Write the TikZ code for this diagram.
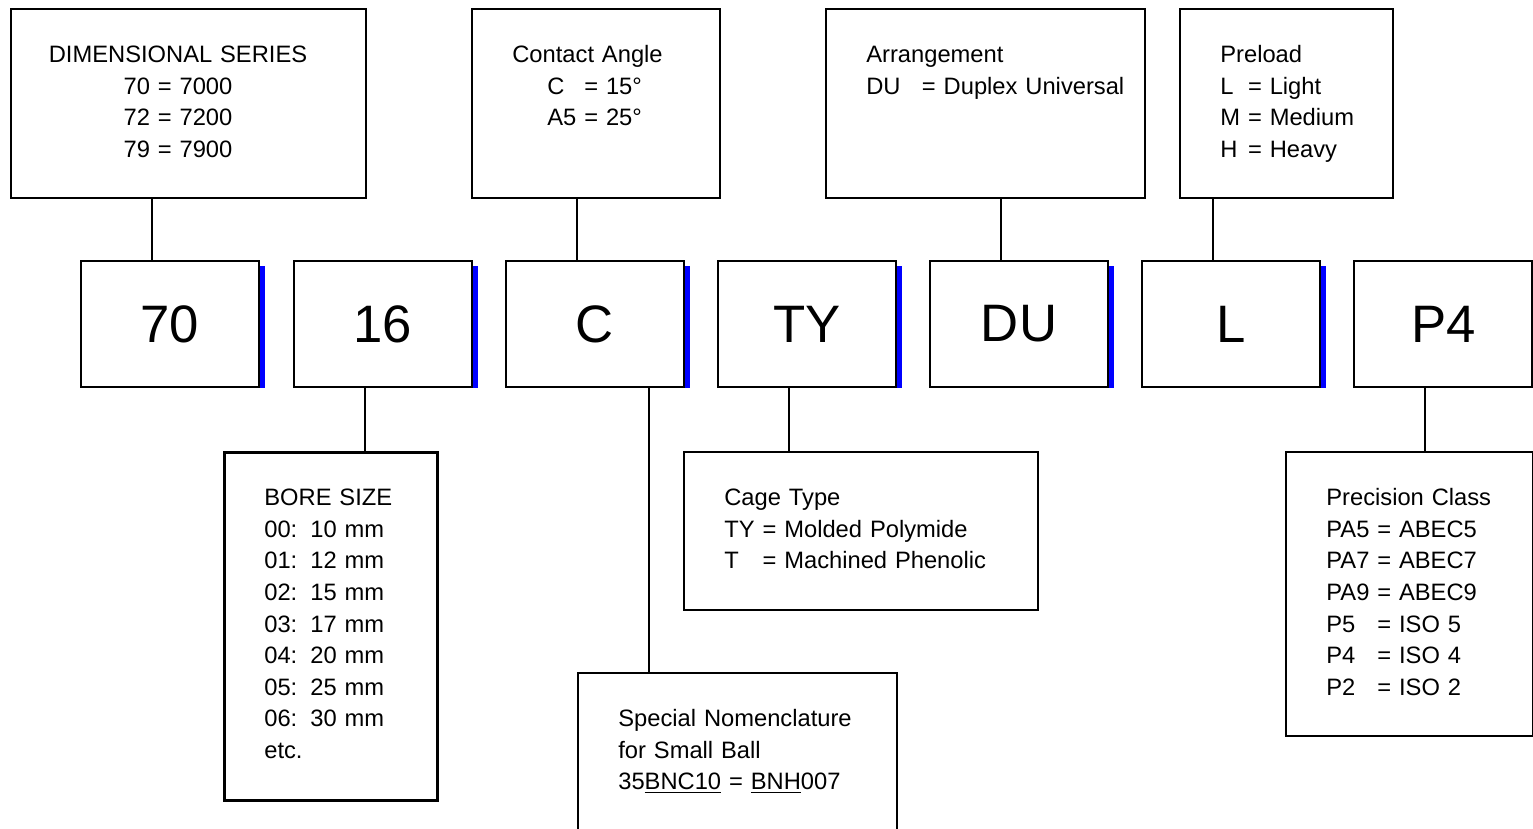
\documentclass[tikz,border=0pt]{standalone}
\usepackage{fontspec}
\setmainfont{Liberation Sans}
\usepackage{calc}
\usepackage{tikz}
\usetikzlibrary{positioning,calc}
\newcommand{\padto}[2]{\makebox[\widthof{#1}][l]{#2}}
\newcommand{\infofont}{\fontsize{13.5}{18}\selectfont}
\newcommand{\codefont}{\fontsize{30}{36}\selectfont}

\begin{document}
\begin{tikzpicture}[x=0.02cm,y=-0.02cm,
  infobox/.style={rectangle,draw,line width=1.1pt,anchor=north west,inner sep=0pt},
  codebox/.style={rectangle,draw,line width=1.1pt,minimum width=3.56cm,
                  minimum height=2.52cm,inner sep=0pt,font=\codefont},
  infotext/.style={anchor=base west,inner sep=0pt,text width=6.6cm,align=left,
                   font=\infofont},
  link/.style={line width=1.1pt},
  node distance=0.645cm]

  \useasboundingbox[fill=white] (0,0) rectangle (1533,828);

  % code row
  \node[codebox,line width=1.6pt] (c70) at (170,324) {70};
  \node[codebox,right=of c70] (c16) {16};
  \node[codebox,right=of c16] (cC) {C};
  \node[codebox,right=of cC] (cTY) {TY};
  \node[codebox,right=of cTY] (cDU) {DU};
  \node[codebox,right=of cDU] (cL) {L};
  \node[codebox,right=of cL] (cP4) {P4};

  \foreach \c in {c70,c16,cC,cTY,cDU,cL}
    \fill[blue] ([yshift=-0.12cm]\c.north east) rectangle ([xshift=0.1cm]\c.south east);

  % upper boxes
  \node[infobox,minimum width=7.1cm,minimum height=3.78cm] (dim) at (10,8) {};
  \node[infobox,minimum width=4.96cm,minimum height=3.78cm] (angle) at (471,8) {};
  \node[infobox,minimum width=6.38cm,minimum height=3.78cm] (arr) at (825,8) {};
  \node[infobox,minimum width=4.26cm,minimum height=3.78cm] (preload) at (1179,8) {};

  \node[infotext,anchor=base,align=center,text width=6.4cm]
       at ([shift={(168,54.5)}]dim.north west)
       {DIMENSIONAL SERIES\\70 = 7000\\72 = 7200\\79 = 7900};
  \node[infotext] at ([shift={(41,54.5)}]angle.north west)
       {Contact Angle\\
        \hspace*{0.7cm}\padto{A5}{C} = 15°\\
        \hspace*{0.7cm}A5 = 25°};
  \node[infotext] at ([shift={(41,54.5)}]arr.north west)
       {Arrangement\\DU\hspace*{0.9em}= Duplex Universal};
  \node[infotext] at ([shift={(41,54.5)}]preload.north west)
       {Preload\\\padto{M}{L} = Light\\M = Medium\\\padto{M}{H} = Heavy};

  % lower boxes
  \node[infobox,line width=1.6pt,minimum width=4.26cm,minimum height=6.96cm] (bore) at (223,451) {};
  \node[infobox,minimum width=7.08cm,minimum height=3.16cm] (cage) at (683,451) {};
  \node[infobox,minimum width=6.38cm,minimum height=3.4cm] (special) at (577,672) {};
  \node[infobox,minimum width=4.94cm,minimum height=5.68cm] (precision) at (1285,451) {};

  \node[infotext] at ([shift={(41,54.5)}]bore.north west)
       {BORE SIZE\\
        00:\hspace*{0.55em}10 mm\\01:\hspace*{0.55em}12 mm\\02:\hspace*{0.55em}15 mm\\
        03:\hspace*{0.55em}17 mm\\04:\hspace*{0.55em}20 mm\\05:\hspace*{0.55em}25 mm\\
        06:\hspace*{0.55em}30 mm\\etc.};
  \node[infotext] at ([shift={(41,54.5)}]cage.north west)
       {Cage Type\\TY = Molded Polymide\\\padto{TY}{T} = Machined Phenolic};
  \node[infotext] at ([shift={(41,54.5)}]special.north west)
       {Special Nomenclature\\for Small Ball\\
        35\underline{BNC10} = \underline{BNH}007};
  \node[infotext] at ([shift={(41,54.5)}]precision.north west)
       {Precision Class\\PA5 = ABEC5\\PA7 = ABEC7\\PA9 = ABEC9\\
        \padto{PA5}{P5} = ISO 5\\\padto{PA5}{P4} = ISO 4\\\padto{PA5}{P2} = ISO 2};

  % connectors
  \coordinate (t70) at ($(c70.north west)!0.4!(c70.north east)$);
  \coordinate (tC)  at ($(cC.north west)!0.4!(cC.north east)$);
  \coordinate (tDU) at ($(cDU.north west)!0.4!(cDU.north east)$);
  \coordinate (tL)  at ($(cL.north west)!0.4!(cL.north east)$);
  \coordinate (b16) at ($(c16.south west)!0.4!(c16.south east)$);
  \coordinate (bC)  at ($(cC.south west)!0.8!(cC.south east)$);
  \coordinate (bTY) at ($(cTY.south west)!0.4!(cTY.south east)$);
  \coordinate (bP4) at ($(cP4.south west)!0.4!(cP4.south east)$);

  \draw[link] (t70) -- (t70 |- dim.south);
  \draw[link] (tC) -- (tC |- angle.south);
  \draw[link] (tDU) -- (tDU |- arr.south);
  \draw[link] (tL) -- (tL |- preload.south);
  \draw[link] (b16) -- (b16 |- bore.north);
  \draw[link] (bC) -- (bC |- special.north);
  \draw[link] (bTY) -- (bTY |- cage.north);
  \draw[link] (bP4) -- (bP4 |- precision.north);

\end{tikzpicture}
\end{document}
